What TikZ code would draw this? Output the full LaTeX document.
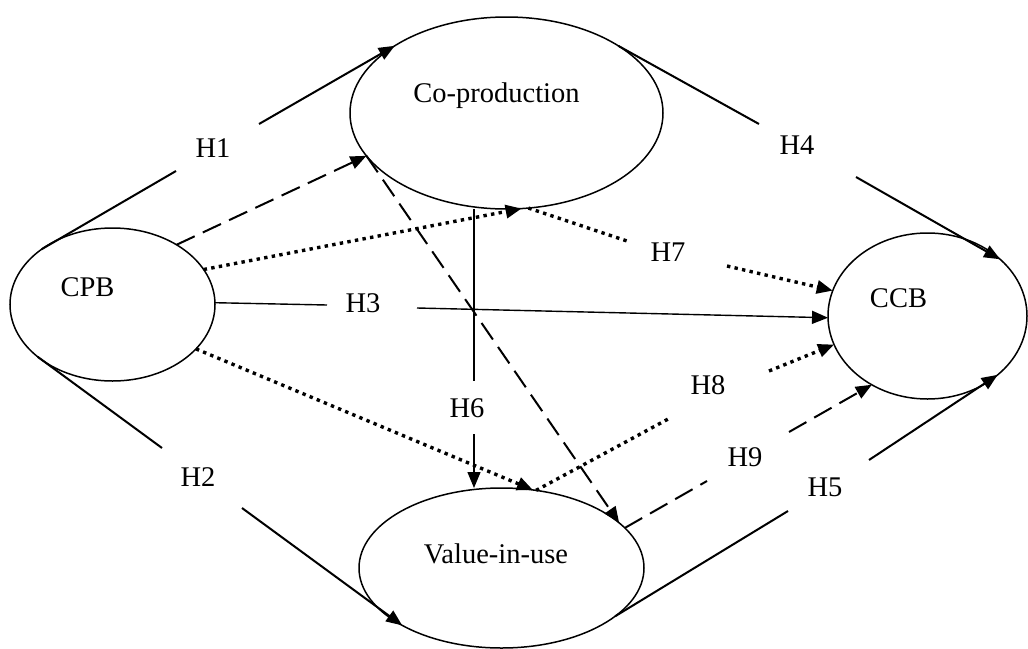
\documentclass[tikz,border=0pt]{standalone}
\usepackage{fontspec}
\setmainfont{Liberation Serif}
\usetikzlibrary{shapes.geometric,arrows.meta}

\begin{document}
\begin{tikzpicture}[x=1pt,y=-1pt,
  construct/.style={ellipse,draw,line width=1.5pt,inner sep=0pt,outer sep=0pt},
  txt/.style={font=\fontsize{28.5}{32}\selectfont,text height=19pt,text depth=0pt,inner sep=0pt},
  tip/.style={-{Triangle[length=16pt,width=13pt]}},
  solidline/.style={line width=2pt},
  thinline/.style={line width=1.4pt},
  dashedline/.style={line width=2pt,dash pattern=on 20pt off 9pt},
  dottedline/.style={line width=3.4pt,dash pattern=on 3.4pt off 4.3pt}
]
\useasboundingbox (0,0) rectangle (1028,648);

% constructs
\node[construct,minimum width=205pt,minimum height=153pt] (cpb) at (112.5,304.5) {};
\node[construct,minimum width=313pt,minimum height=192pt] (cop) at (506.5,113) {};
\node[construct,minimum width=199pt,minimum height=166pt] (ccb) at (927.5,316) {};
\node[construct,minimum width=285pt,minimum height=160pt] (viu) at (501.5,568) {};

\node[txt] (cpbt) at ([shift={(-25,-17.5)}]cpb.center) {CPB};
\node[txt] (copt) at ([shift={(-10,-20)}]cop.center) {Co-production};
\node[txt] (ccbt) at ([shift={(-29,-18)}]ccb.center) {CCB};
\node[txt] (viut) at ([shift={(-5.5,-14)}]viu.center) {Value-in-use};

% gap ends around the hypothesis labels
\coordinate (h1a) at (176,171);  \coordinate (h1b) at (259,124);
\coordinate (h2a) at (162,448);  \coordinate (h2b) at (242,508);
\coordinate (h3a) at (327,305);  \coordinate (h3b) at (417,308);
\coordinate (h4a) at (759,124);  \coordinate (h4b) at (856,177);
\coordinate (h5a) at (788,511);  \coordinate (h5b) at (869,460);
\coordinate (h6a) at (474,381);  \coordinate (h6b) at (474,434);
\coordinate (h7a) at (630,242);  \coordinate (h7b) at (727,266);
\coordinate (h8a) at (670,418);  \coordinate (h8b) at (769,371);
\coordinate (h9a) at (707,481);  \coordinate (h9b) at (789,432);

% direct paths
\draw[solidline] (cpb.142) -- (h1a);
\draw[solidline,tip] (h1b) -- (cop.149);
\node[txt] (H1) at (213,148) {H1};

\draw[solidline] (cpb.215) -- (h2a);
\draw[solidline,tip] (h2b) -- (viu.210);
\node[txt] (H2) at (198,477) {H2};

\draw[thinline] (cpb.1) -- (h3a);
\draw[thinline,tip] (h3b) -- (ccb.181);
\node[txt] (H3) at (363,303) {H3};

\draw[solidline] (cop.31) -- (h4a);
\draw[solidline,tip] (h4b) -- (ccb.38);
\node[txt] (H4) at (797,145) {H4};

\draw[solidline] (viu.337) -- (h5a);
\draw[solidline,tip] (h5b) -- (ccb.320);
\node[txt] (H5) at (825,487) {H5};

\draw[thinline] (cop.south -| h6a) -- (h6a);
\draw[thinline,tip] (h6b) -- (h6b |- viu.north);
\node[txt] (H6) at (467,408) {H6};

% mediated paths
\draw[dottedline,tip] (cpb.21) -- (cop.279);
\draw[dottedline] (cop.283) -- (h7a);
\draw[dottedline,tip] (h7b) -- (ccb.165);
\node[txt] (H7) at (668,252) {H7};

\draw[dottedline,tip] (cpb.332) -- (viu.68);
\draw[dottedline] (viu.66) -- (h8a);
\draw[dottedline,tip] (h8b) -- (ccb.197);
\node[txt] (H8) at (708,385) {H8};

\draw[dashedline,tip] (cpb.43) -- (cop.197);
\draw[dashedline,tip] (cop.197) -- (viu.21);
\draw[dashedline] (viu.18) -- (h9a);
\draw[dashedline,tip] (h9b) -- (ccb.231);
\node[txt] (H9) at (745,457) {H9};
\end{tikzpicture}
\end{document}
